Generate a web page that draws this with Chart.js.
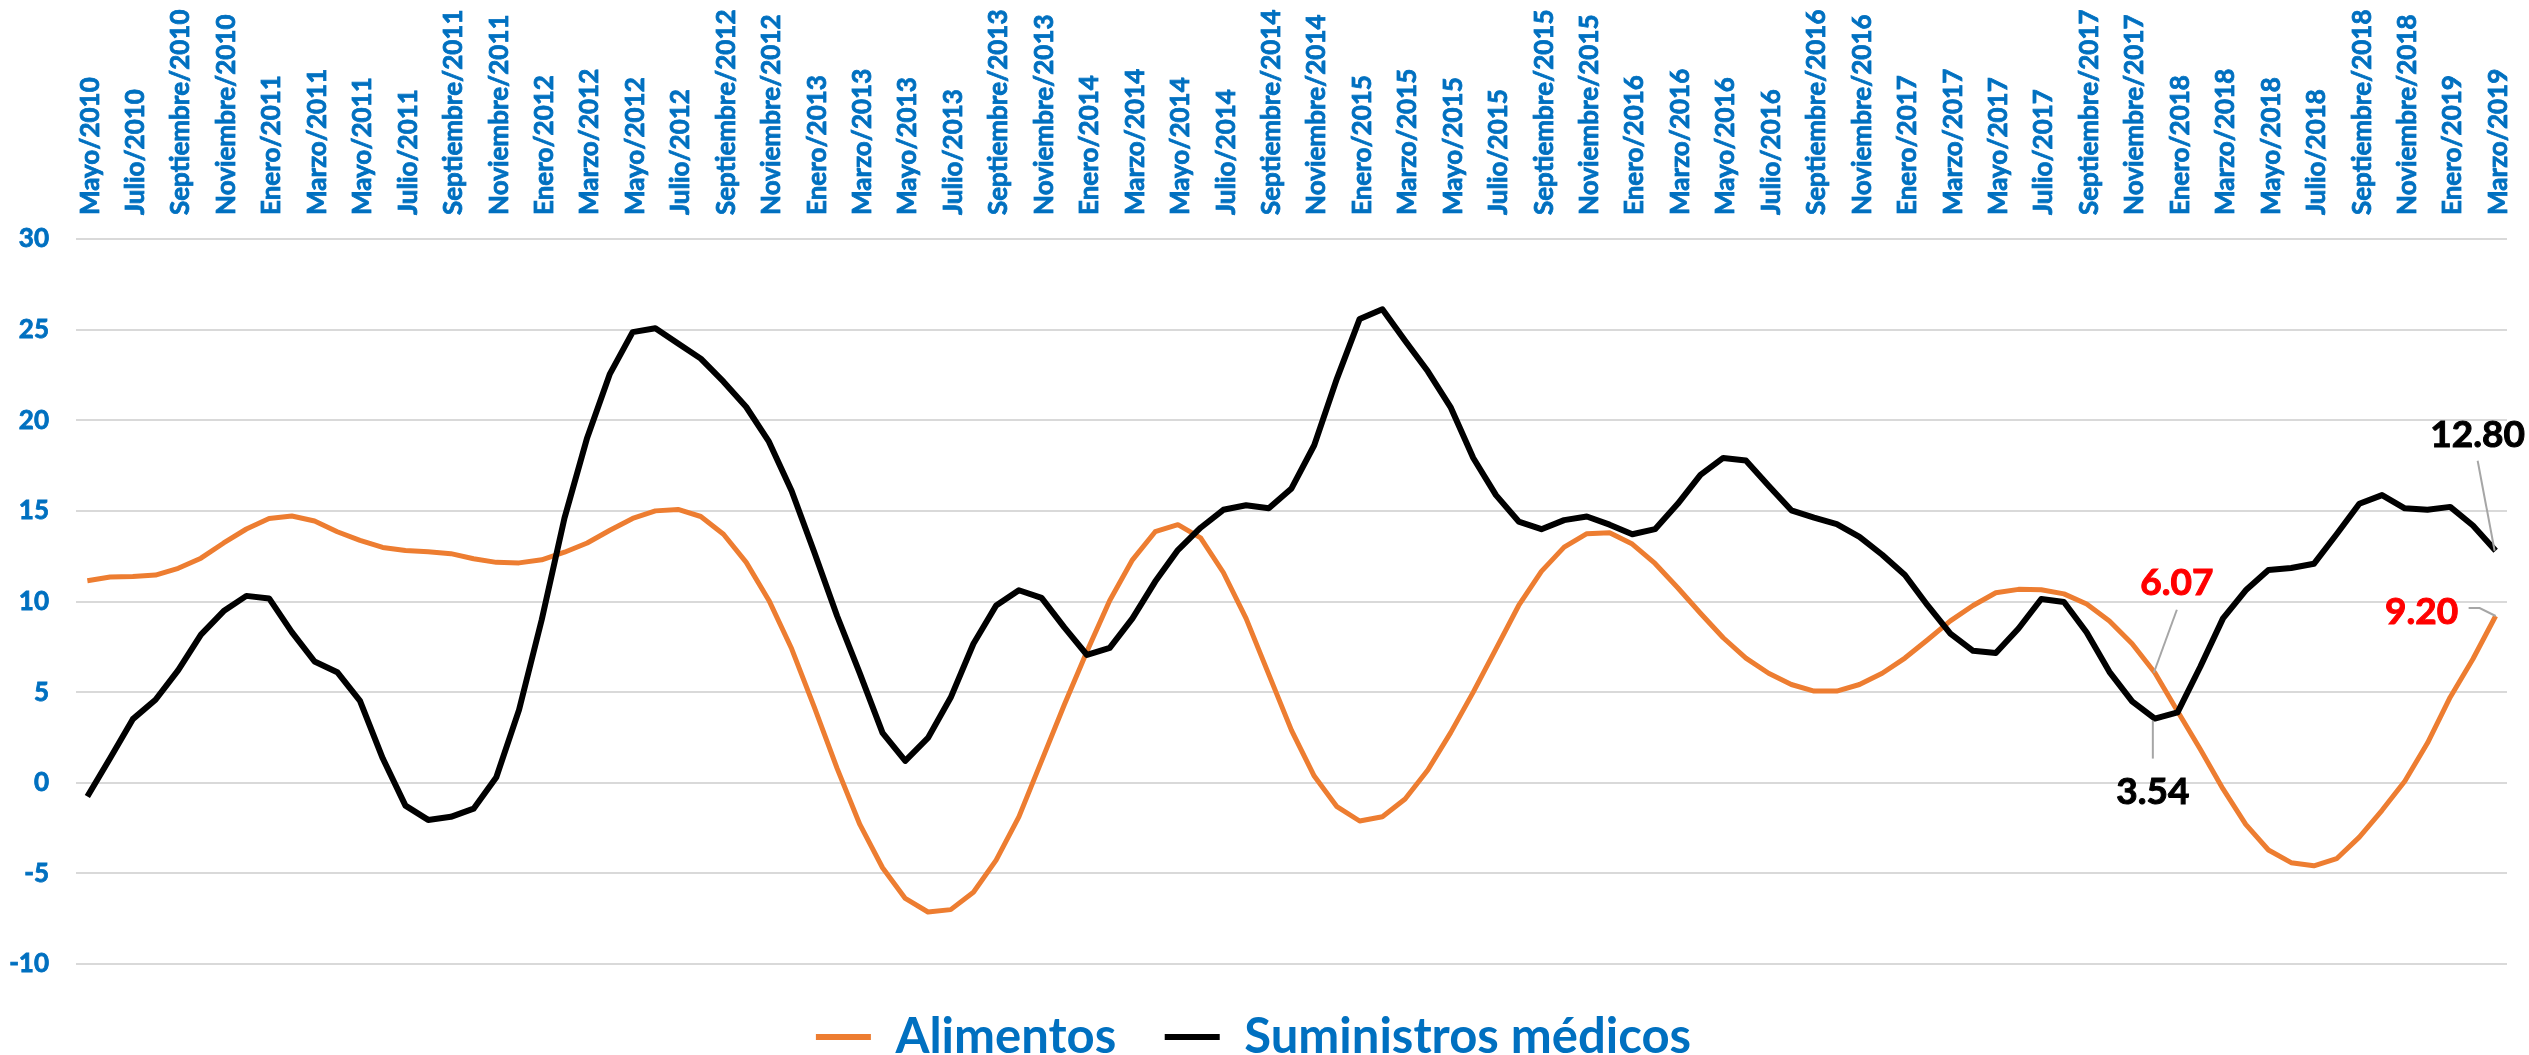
<!DOCTYPE html>
<html>
<head>
<meta charset="utf-8">
<script src="https://cdn.jsdelivr.net/npm/chart.js@4.4.1/dist/chart.umd.min.js"></script>
<style>
  html, body { margin: 0; padding: 0; background: #fff; overflow: hidden; }
  canvas { display: block; }
</style>
</head>
<body>
<canvas id="grafico" width="2529" height="1055"></canvas>
<script>
// meses en español, la serie va de Mayo/2010 a Marzo/2019
const meses = ['Enero', 'Febrero', 'Marzo', 'Abril', 'Mayo', 'Junio', 'Julio',
  'Agosto', 'Septiembre', 'Octubre', 'Noviembre', 'Diciembre'];

const categorias = [];
for (let anio = 2010; anio <= 2019; anio++) {
  for (let m = 0; m < 12; m++) {
    if (anio === 2010 && m < 4) continue;
    if (anio === 2019 && m > 2) break;
    categorias.push(meses[m] + '/' + anio);
  }
}

const alimentos = [
  11.15, 11.35, 11.38, 11.46, 11.83, 12.39, 13.23, 14.00, 14.58, 14.72,
  14.44, 13.85, 13.37, 12.98, 12.81, 12.75, 12.64, 12.36, 12.16, 12.13,
  12.30, 12.72, 13.23, 13.93, 14.58, 15.00, 15.08, 14.69, 13.71, 12.16,
  10.06, 7.39, 4.16, 0.79, -2.30, -4.69, -6.38, -7.13, -7.00, -6.04,
  -4.27, -1.88, 1.21, 4.30, 7.25, 10.06, 12.30, 13.85, 14.24, 13.51,
  11.60, 9.07, 5.98, 2.89, 0.37, -1.32, -2.11, -1.88, -0.90, 0.70,
  2.75, 5.00, 7.39, 9.78, 11.66, 13.00, 13.74, 13.79, 13.17, 12.10,
  10.76, 9.35, 8.00, 6.88, 6.04, 5.42, 5.06, 5.06, 5.42, 6.04,
  6.88, 7.89, 8.93, 9.78, 10.48, 10.67, 10.65, 10.42, 9.86, 8.93,
  7.67, 6.07, 3.94, 1.85, -0.34, -2.30, -3.71, -4.41, -4.58, -4.19,
  -3.00, -1.52, 0.08, 2.19, 4.72, 6.83, 9.20
];

const suministros = [
  -0.76, 1.35, 3.51, 4.58, 6.21, 8.17, 9.47, 10.31, 10.17, 8.31,
  6.69, 6.10, 4.52, 1.35, -1.26, -2.05, -1.88, -1.43, 0.30, 4.02,
  9.00, 14.60, 19.04, 22.56, 24.86, 25.08, 24.24, 23.40, 22.13, 20.73,
  18.82, 16.10, 12.70, 9.20, 6.04, 2.75, 1.21, 2.47, 4.70, 7.67,
  9.78, 10.62, 10.20, 8.57, 7.05, 7.44, 9.07, 11.10, 12.84, 14.07,
  15.06, 15.31, 15.14, 16.24, 18.62, 22.30, 25.59, 26.12, 24.38, 22.70,
  20.73, 17.92, 15.87, 14.41, 13.99, 14.49, 14.69, 14.24, 13.71, 13.99,
  15.39, 16.99, 17.92, 17.78, 16.38, 15.03, 14.63, 14.27, 13.57, 12.58,
  11.46, 9.78, 8.23, 7.28, 7.16, 8.51, 10.14, 9.97, 8.29, 6.12,
  4.49, 3.54, 3.88, 6.40, 9.07, 10.62, 11.74, 11.85, 12.08, 13.71,
  15.39, 15.87, 15.14, 15.06, 15.22, 14.19, 12.80
];

const azul = '#0070C0';
const naranja = '#ED7D31';

// etiquetas de datos destacadas (serie, índice) con su desplazamiento respecto al punto
const destacados = [
  { serie: 0, indice: 91, color: '#FF0000', dx: 22, dy: -78, guia: [[22, -63], [-1, 0]] },
  { serie: 1, indice: 91, color: '#000000', dx: -2, dy: 85, guia: [[-2, 2], [-2, 40]] },
  { serie: 1, indice: 106, color: '#000000', dx: -18, dy: -104, guia: [[-18, -90], [-1, 0]] },
  { serie: 0, indice: 106, color: '#FF0000', dx: -74, dy: 8, guia: [[-27, -8], [-16, -8], [0, 0]] }
];

const etiquetasPlugin = {
  id: 'etiquetas',
  afterDatasetsDraw(chart) {
    const ctx = chart.ctx;
    ctx.save();
    destacados.forEach(d => {
      const pt = chart.getDatasetMeta(d.serie).data[d.indice];
      const valor = chart.data.datasets[d.serie].data[d.indice];
      ctx.strokeStyle = '#A6A6A6';
      ctx.lineWidth = 2;
      ctx.beginPath();
      d.guia.forEach((p, k) => {
        if (k === 0) ctx.moveTo(pt.x + p[0], pt.y + p[1]);
        else ctx.lineTo(pt.x + p[0], pt.y + p[1]);
      });
      ctx.stroke();
      ctx.fillStyle = d.color;
      ctx.strokeStyle = d.color;
      ctx.lineWidth = 1;
      ctx.font = 'bold 37px Lato';
      ctx.textAlign = 'center';
      ctx.textBaseline = 'alphabetic';
      ctx.fillText(valor.toFixed(2), pt.x + d.dx, pt.y + d.dy);
      ctx.strokeText(valor.toFixed(2), pt.x + d.dx, pt.y + d.dy);
    });
    ctx.restore();
  }
};

Chart.defaults.font.family = 'Lato';

new Chart(document.getElementById('grafico'), {
  type: 'line',
  data: {
    labels: categorias,
    datasets: [{
      label: 'Alimentos',
      data: alimentos,
      borderColor: naranja,
      backgroundColor: naranja,
      borderWidth: 5,
      pointRadius: 0,
      tension: 0,
      borderJoinStyle: 'round',
      order: 1
    }, {
      label: 'Suministros médicos',
      data: suministros,
      borderColor: '#000000',
      backgroundColor: '#000000',
      borderWidth: 6,
      pointRadius: 0,
      tension: 0,
      borderJoinStyle: 'round',
      order: 0
    }]
  },
  options: {
    responsive: false,
    animation: false,
    devicePixelRatio: 1,
    layout: { padding: { top: 0, right: 22, bottom: -16.5, left: 0 } },
    plugins: {
      tooltip: { enabled: false },
      legend: {
        position: 'bottom',
        labels: {
          color: azul,
          font: { size: 49, weight: 'bold' },
          boxWidth: 55,
          boxHeight: 6,
          padding: 48.5,
          sort: (a, b) => a.datasetIndex - b.datasetIndex,
          generateLabels(chart) {
            return Chart.defaults.plugins.legend.labels.generateLabels(chart)
              .map(item => Object.assign(item, { lineWidth: 0 }));
          }
        }
      }
    },
    scales: {
      x: {
        position: 'top',
        offset: true,
        grid: { display: false, drawTicks: false },
        border: { display: false },
        ticks: {
          autoSkip: false,
          minRotation: 90,
          maxRotation: 90,
          padding: 24,
          labelOffset: 34,
          color: azul,
          textStrokeColor: azul,
          textStrokeWidth: 0.8,
          font: { size: 26, weight: 'bold' },
          callback(v, i) { return i % 2 === 0 ? this.getLabelForValue(v) : ''; }
        },
        afterFit(s) { s.height = 239; }
      },
      y: {
        min: -10,
        max: 30,
        ticks: {
          stepSize: 5,
          color: azul,
          textStrokeColor: azul,
          textStrokeWidth: 0.8,
          font: { size: 26, weight: 'bold' },
          padding: 27
        },
        grid: { color: '#D9D9D9', lineWidth: 2, drawTicks: false },
        border: { display: false },
        afterFit(s) { s.width = 76; }
      }
    }
  },
  plugins: [etiquetasPlugin]
});
</script>
</body>
</html>
